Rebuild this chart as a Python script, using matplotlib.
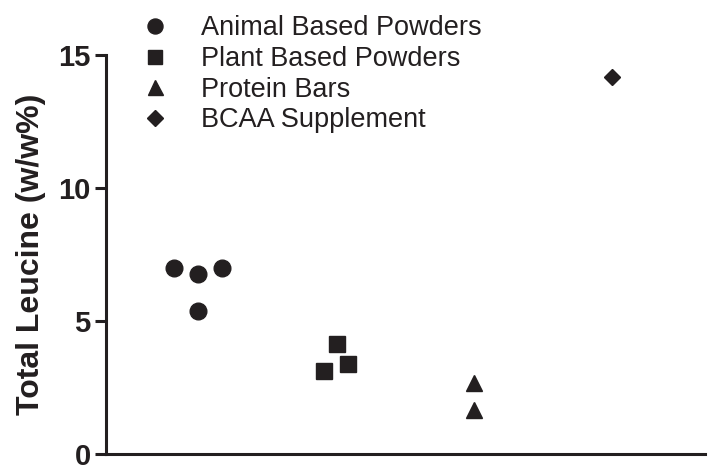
import matplotlib
matplotlib.use('Agg')
import matplotlib.pyplot as plt

plt.rcParams['font.family'] = ['Liberation Sans', 'DejaVu Sans']

INK = '#231f20'

# group positions on the x axis and the values
animal_x = [0.826, 1.0, 1.174, 1.0]
animal_y = [7.01, 6.78, 7.01, 5.39]
plant_x = [1.913, 2.007, 2.087]
plant_y = [3.13, 4.15, 3.39]
bars_x = [3.0, 3.0]
bars_y = [2.68, 1.66]
bcaa_x = [4.0]
bcaa_y = [14.17]

y_ticks = [0, 5, 10, 15]


def main():
    fig = plt.figure(figsize=(7.13, 4.66), dpi=100)
    ax = fig.add_axes([106 / 713, 12 / 466, (705 - 106) / 713, (454 - 55) / 466])

    ax.plot(animal_x, animal_y, 'o', ms=12, color=INK, ls='none', label='Animal Based Powders')
    ax.plot(plant_x, plant_y, 's', ms=11.5, color=INK, ls='none', label='Plant Based Powders')
    ax.plot(bars_x, bars_y, '^', ms=12, color=INK, ls='none', label='Protein Bars')
    ax.plot(bcaa_x, bcaa_y, 'D', ms=8.5, color=INK, ls='none', label='BCAA Supplement')

    ax.set_xlim(1 / 3, 4.674)
    ax.set_ylim(0, 15)
    ax.set_yticks(y_ticks)
    ax.set_xticks([])
    for s in ['top', 'right']:
        ax.spines[s].set_visible(False)
    for s in ['left', 'bottom']:
        ax.spines[s].set_linewidth(2.2)
        ax.spines[s].set_color(INK)
    ax.tick_params(axis='y', length=8, width=2.2, color=INK, labelsize=21, pad=3)
    for lbl in ax.get_yticklabels():
        lbl.set_fontweight('bold')
        lbl.set_color(INK)
    ax.set_ylabel('Total Leucine (w/w%)', fontsize=23, fontweight='bold', color=INK, labelpad=9)

    leg = fig.legend(loc='upper left', bbox_to_anchor=(131 / 713, 0.99), frameon=False,
                     fontsize=19.5, handletextpad=1.2, labelspacing=0.17, borderaxespad=0.0,
                     markerscale=0.9, handlelength=1.0)
    for t in leg.get_texts():
        t.set_color(INK)

    fig.savefig('out.png', dpi=100)
    plt.close(fig)


if __name__ == "__main__":
    main()
